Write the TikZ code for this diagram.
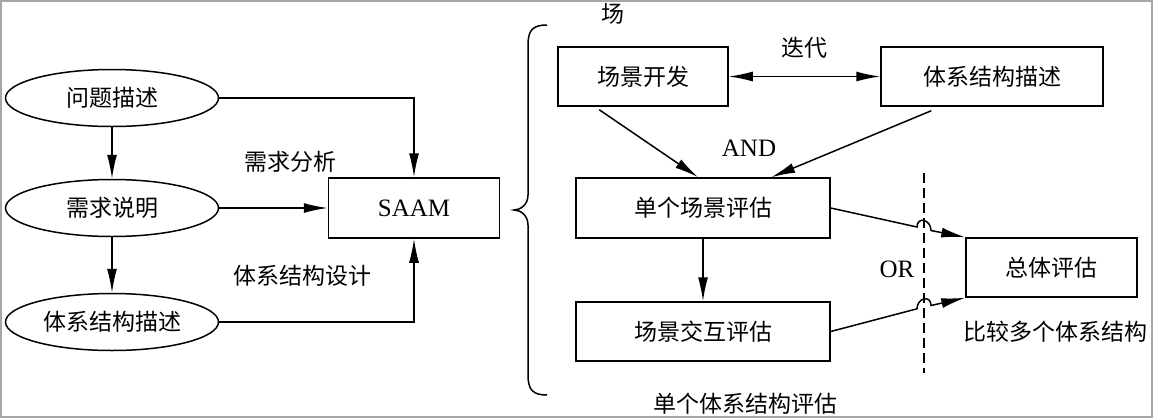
\documentclass[tikz,border=0pt]{standalone}
\usepackage{fontspec}
\setmainfont{Liberation Serif}
\newfontfamily\cjk{Noto Sans CJK SC}
\usetikzlibrary{shapes.geometric,arrows.meta,calc}
\begin{document}
\begin{tikzpicture}[x=1pt,y=-1pt,
  font=\fontsize{23}{27}\selectfont,
  line width=1.5pt,
  arr/.style={-{Latex[length=24pt,width=10pt]}},
  darr/.style={{Latex[length=24pt,width=10pt]}-{Latex[length=24pt,width=10pt]}},
  ell/.style={ellipse,draw,minimum width=213pt,minimum height=57pt,inner sep=0pt},
  box/.style={draw,rectangle,minimum width=#1,minimum height=59pt,inner sep=0pt},
  lab/.style={inner sep=0pt},
  latin/.style={font=\fontsize{25}{29}\selectfont}]
\useasboundingbox (0,0) rectangle (1153,418);
\draw[gray!70,line width=2pt] (1,1) rectangle (1152,417);

% left part
\node[ell] (q) at (112,98) {\cjk 问题描述};
\node[ell] (r) at (112,208) {\cjk 需求说明};
\node[ell] (a) at (112,322) {\cjk 体系结构描述};
\node[box=171pt,minimum height=60pt,latin] (saam) at (414,208) {SAAM};
\draw[arr] (q.south) -- (r.north);
\draw[arr] (r.south) -- (a.north);
\draw[arr] (q.east) -| (saam.north);
\draw[arr] (r.east) -- (saam.west);
\draw[arr] (a.east) -| (saam.south);
\node[lab] (l1) at (290,162) {\cjk 需求分析};
\node[lab] (l2) at (302,276) {\cjk 体系结构设计};

% brace
\draw (547,25) .. controls (533,25) and (528,30) .. (528,45) -- (528,195)
  .. controls (528,205) and (520,210) .. (514,210)
  .. controls (520,210) and (528,215) .. (528,225) -- (528,375)
  .. controls (528,390) and (533,395) .. (547,395);
\node[lab] (chang) at (613,14) {\cjk 场};

% right part
\node[box=170pt] (dev) at (643,76.5) {\cjk 场景开发};
\node[box=222pt] (desc) at (992,76.5) {\cjk 体系结构描述};
\node[box=254pt,minimum height=60pt] (single) at (703,208) {\cjk 单个场景评估};
\node[box=254pt] (inter) at (703,331.5) {\cjk 场景交互评估};
\node[box=171pt] (total) at (1051.5,267.5) {\cjk 总体评估};

\draw[darr] (dev.east) -- (desc.west);
\node[lab] (iter) at (804,48) {\cjk 迭代};

\coordinate (s1) at ($(dev.south west)+(42,3)$);
\coordinate (e1) at ($(single.north west)+(123,0)$);
\coordinate (s2) at ($(desc.south west)+(51,4)$);
\coordinate (e2) at ($(single.north west)+(196,0)$);
\draw[arr] (s1) -- (e1);
\draw[arr] (s2) -- (e2);
\node[lab,latin] (and) at (749,148) {AND};

\draw[arr] (single.south) -- (inter.north);

\coordinate (dtop) at (924,173);
\coordinate (dbot) at (924,373);
\draw[dash pattern=on 10pt off 5pt] (dtop) -- (dbot);
\node[lab,latin] (or) at (897,269) {OR};

\coordinate (h1a) at (917,227);
\coordinate (h1b) at (931,230.5);
\draw[arr] (single.east) -- (h1a) .. controls +(0,-11) and +(0,-11) .. (h1b) -- (total.north west);
\coordinate (h2a) at (917,308.8);
\coordinate (h2b) at (931,305.5);
\draw[arr] (inter.east) -- (h2a) .. controls +(0,-11) and +(0,-11) .. (h2b) -- (total.south west);

\node[lab] (cmp) at (1055,332) {\cjk 比较多个体系结构};
\node[lab] (sgl) at (745,404) {\cjk 单个体系结构评估};
\end{tikzpicture}
\end{document}
